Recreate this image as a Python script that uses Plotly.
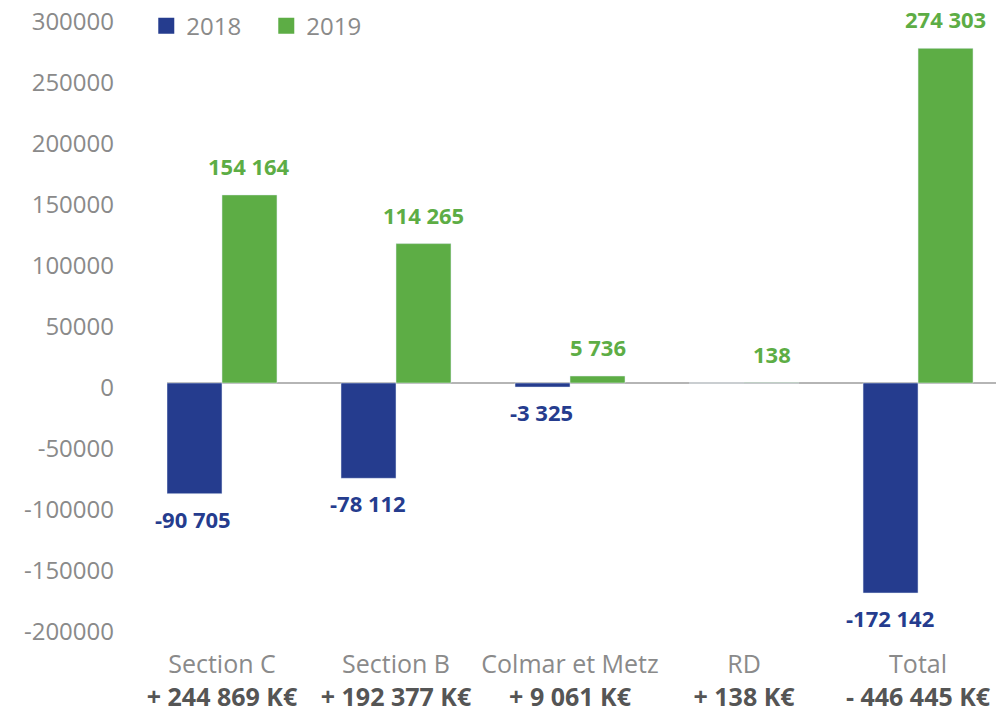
import plotly.graph_objects as go

categories = ["Section C", "Section B", "Colmar et Metz", "RD", "Total"]
diff_labels = ["+ 244 869 K€", "+ 192 377 K€", "+ 9 061 K€", "+ 138 K€", "- 446 445 K€"]
values_2018 = [-90705, -78112, -3325, 0, -172142]
values_2019 = [154164, 114265, 5736, 138, 274303]
labels_2018 = ["-90 705", "-78 112", "-3 325", "", "-172 142"]
labels_2019 = ["154 164", "114 265", "5 736", "138", "274 303"]
y_ticks = [-200000, -150000, -100000, -50000, 0, 50000, 100000, 150000, 200000, 250000, 300000]

BLUE = "#253C8E"
GREEN = "#5DAD45"
GRAY = "#8a8a8a"
DARK = "#555555"
FONT = "Open Sans"

fig = go.Figure()
fig.add_trace(go.Bar(x=categories, y=values_2018, name="2018", marker_color=BLUE,
                     showlegend=False))
fig.add_trace(go.Bar(x=categories, y=values_2019, name="2019", marker_color=GREEN,
                     showlegend=False))
# legend entries with larger square symbols
for name, col in [("2018", BLUE), ("2019", GREEN)]:
    fig.add_trace(go.Scatter(x=[None], y=[None], mode="markers", name=name,
                             marker=dict(symbol="square", size=20, color=col)))

# data labels
for cats, vals, labs, col, xs in [(categories, values_2018, labels_2018, BLUE, -28.5),
                                  (categories, values_2019, labels_2019, GREEN, 27.5)]:
    for c, v, t in zip(cats, vals, labs):
        if not t:
            continue
        fig.add_annotation(x=c, y=v, text=f"<b>{t}</b>", showarrow=False,
                           xshift=xs, yshift=(29 if v >= 0 else -25),
                           font=dict(color=col, size=22, family=FONT))

ticktext = [f"{c}<br><span style='color:{DARK}'><b>{d}</b></span>" for c, d in zip(categories, diff_labels)]

fig.update_layout(
    width=996, height=712,
    margin=dict(l=167, r=0, t=17, b=85, autoexpand=False),
    paper_bgcolor="white", plot_bgcolor="white",
    barmode="group", bargap=0.368, bargroupgap=0,
    font=dict(family=FONT, color=GRAY, size=22),
    legend=dict(orientation="h", x=-0.025, y=0.985, xanchor="left", yanchor="middle",
                font=dict(size=24, color=GRAY), entrywidth=75, entrywidthmode="pixels",
                itemsizing="trace", bgcolor="rgba(0,0,0,0)"),
    xaxis=dict(tickmode="array", tickvals=categories, ticktext=ticktext,
               range=[-0.316, 4.448], showline=False, showgrid=False, ticks="",
               tickfont=dict(size=25, color=GRAY), ticklabelstandoff=20),
    yaxis=dict(range=[-200000, 300000], tickvals=y_ticks,
               ticktext=[str(v) for v in y_ticks], showgrid=False,
               zeroline=True, zerolinecolor="#b5b5b5", zerolinewidth=1.5,
               tickfont=dict(size=24, color=GRAY), ticks="", ticklabelstandoff=52,
               ticklabelshift=5),
)
fig.write_html("out.html", config={"displayModeBar": False},
               post_script="document.body.style.margin='0';")
